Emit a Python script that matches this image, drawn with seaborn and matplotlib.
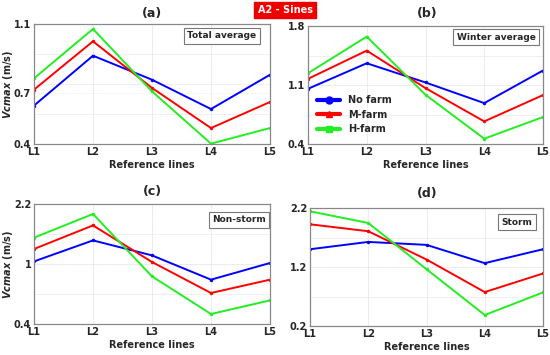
import numpy as np
import pandas as pd
import matplotlib
matplotlib.use("Agg")
import matplotlib.pyplot as plt
from matplotlib.lines import Line2D
import seaborn as sns

refs = ["L1", "L2", "L3", "L4", "L5"]
series = ["No farm", "M-farm", "H-farm"]

total_no = [0.624, 0.915, 0.775, 0.604, 0.804]
total_m = [0.717, 0.999, 0.727, 0.493, 0.645]
total_h = [0.783, 1.071, 0.707, 0.402, 0.493]

winter_no = [1.055, 1.358, 1.130, 0.885, 1.272]
winter_m = [1.173, 1.508, 1.063, 0.668, 0.980]
winter_h = [1.240, 1.674, 0.984, 0.463, 0.720]

nonstorm_no = [1.339, 1.654, 1.429, 1.065, 1.315]
nonstorm_m = [1.525, 1.879, 1.330, 0.865, 1.065]
nonstorm_h = [1.695, 2.050, 1.114, 0.550, 0.754]

storm_no = [1.501, 1.625, 1.575, 1.265, 1.501]
storm_m = [1.924, 1.806, 1.327, 0.775, 1.090]
storm_h = [2.144, 1.946, 1.163, 0.386, 0.769]

panel_titles = ["(a)", "(b)", "(c)", "(d)"]
panel_boxes = ["Total average", "Winter average", "Non-storm", "Storm"]
ytick_vals = [[0.4, 0.7, 1.1], [0.4, 1.1, 1.8], [0.4, 1.3, 2.2], [0.2, 1.2, 2.2]]
ytick_labels = [["0.4", "0.7", "1.1"], ["0.4", "1.1", "1.8"], ["0.4", "1", "2.2"], ["0.2", "1.2", "2.2"]]
ylims = [(0.4, 1.1), (0.4, 1.8), (0.4, 2.2), (0.2, 2.2)]

panels = [
    (total_no, total_m, total_h),
    (winter_no, winter_m, winter_h),
    (nonstorm_no, nonstorm_m, nonstorm_h),
    (storm_no, storm_m, storm_h),
]

colors = {"No farm": "#0000ff", "M-farm": "#ff0000", "H-farm": "#22ee22"}

sns.set_style("white")
plt.rcParams["font.family"] = ["DejaVu Sans"]
plt.rcParams["mathtext.fontset"] = "custom"
plt.rcParams["mathtext.it"] = "DejaVu Sans:italic:bold"
plt.rcParams["mathtext.rm"] = "DejaVu Sans:bold"

W, H = 550, 355
fig = plt.figure(figsize=(5.5, 3.55), dpi=100)

# axes rectangles in pixel coordinates: left, top, right, bottom
rects = [(34, 24, 270, 144), (308, 26, 543, 144), (34, 204, 270, 324), (310, 208, 543, 326)]
box_pos = [(222, 36), (496, 37), (239, 220), (517, 222)]
title_pos = [(152, 13), (427, 14), (152, 192), (427, 193)]

for i, (vals, rect) in enumerate(zip(panels, rects)):
    l, t, r, b = rect
    ax = fig.add_axes([l / W, 1 - b / H, (r - l) / W, (b - t) / H])
    df = pd.DataFrame({
        "ref": refs * 3,
        "v": list(vals[0]) + list(vals[1]) + list(vals[2]),
        "s": [series[0]] * 5 + [series[1]] * 5 + [series[2]] * 5,
    })
    df["x"] = df["ref"].map({k: j for j, k in enumerate(refs)})
    sns.lineplot(data=df, x="x", y="v", hue="s", palette=colors, ax=ax,
                 linewidth=1.4, marker="o", markersize=2.5, markeredgewidth=0,
                 legend=False)
    ax.set_xlim(0, 4)
    ax.set_ylim(*ylims[i])
    ax.set_xticks(range(5))
    ax.set_xticklabels(refs, fontsize=7, fontweight="bold")
    ax.set_yticks(ytick_vals[i])
    ax.set_yticklabels(ytick_labels[i], fontsize=7, fontweight="bold")
    ax.tick_params(axis="both", length=0, pad=2)
    ax.set_xlabel("Reference lines", fontsize=7, fontweight="bold", labelpad=2)
    ax.set_ylabel("")
    if i % 2 == 0:
        fig.text(8 / W, 1 - ((t + b) / 2) / H, r"$Vcmax$ (m/s)", fontsize=7,
                 fontweight="bold", rotation=90, ha="center", va="center")
    ax.grid(True, color="#e6e6e6", linewidth=0.6, linestyle=":")
    lo, hi = ylims[i]
    for yy in np.linspace(lo, hi, 5)[1:-1]:
        ax.axhline(yy, color="#eeeeee", linewidth=0.6, zorder=0)
    for xx in range(1, 4):
        ax.axvline(xx, color="#eeeeee", linewidth=0.6, zorder=0)
    for sp in ax.spines.values():
        sp.set_color("#888888")
        sp.set_linewidth(0.9)
    tx, ty = title_pos[i]
    fig.text(tx / W, 1 - ty / H, panel_titles[i], fontsize=9, fontweight="bold",
             ha="center", va="center")
    bx, by = box_pos[i]
    fig.text(bx / W, 1 - by / H, panel_boxes[i], fontsize=6.5, fontweight="bold",
             ha="center", va="center",
             bbox=dict(boxstyle="square,pad=0.35", facecolor="white", edgecolor="#777777", linewidth=0.8))
    if i == 1:
        handles = [
            Line2D([], [], color=colors["No farm"], marker="o", linewidth=3, markersize=5),
            Line2D([], [], color=colors["M-farm"], marker="^", linewidth=3, markersize=5),
            Line2D([], [], color=colors["H-farm"], marker="s", linewidth=3, markersize=5),
        ]
        ax.legend(handles, series, loc="upper left", bbox_to_anchor=(0.01, 0.47),
                  frameon=False, prop={"weight": "bold", "size": 7},
                  handlelength=2.4, labelspacing=0.45, borderaxespad=0.3)

fig.text(285 / W, 1 - 10 / H, "A2 - Sines", fontsize=7, fontweight="bold", color="white",
         ha="center", va="center",
         bbox=dict(boxstyle="square,pad=0.35", facecolor="#ee0000", edgecolor="#ee0000"))

fig.savefig("out.png", dpi=100)
